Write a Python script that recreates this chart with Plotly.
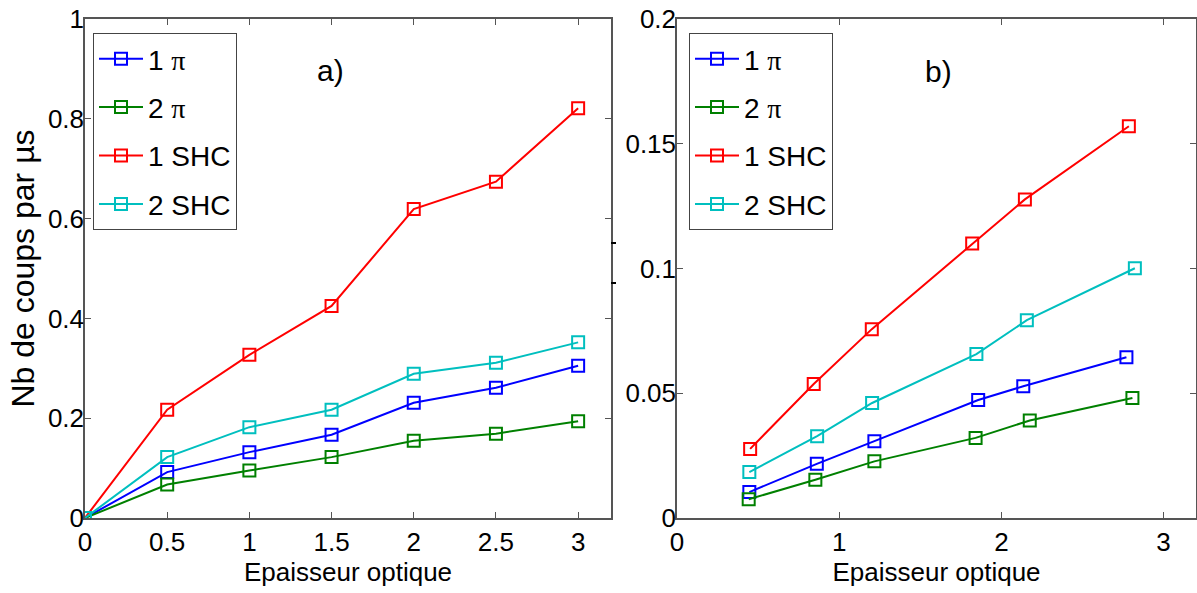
import plotly.graph_objects as go

# ---- data (panel a) ----
xa = [0, 0.5, 1, 1.5, 2, 2.5, 3]
a_1pi = [0, 0.092, 0.132, 0.167, 0.231, 0.261, 0.305]
a_2pi = [0, 0.067, 0.095, 0.122, 0.155, 0.169, 0.194]
a_1shc = [0, 0.217, 0.327, 0.425, 0.619, 0.674, 0.821]
a_2shc = [0, 0.122, 0.182, 0.217, 0.289, 0.311, 0.352]

# ---- data (panel b) ----
xb_1pi = [0.446, 0.862, 1.217, 1.857, 2.135, 2.771]
b_1pi = [0.0104, 0.0217, 0.0308, 0.0473, 0.0528, 0.0644]
xb_2pi = [0.442, 0.853, 1.217, 1.841, 2.175, 2.808]
b_2pi = [0.0075, 0.0153, 0.0227, 0.0321, 0.0391, 0.0481]
xb_1shc = [0.451, 0.843, 1.201, 1.82, 2.145, 2.786]
b_1shc = [0.0277, 0.0537, 0.0757, 0.110, 0.1277, 0.157]
xb_2shc = [0.446, 0.864, 1.203, 1.846, 2.157, 2.823]
b_2shc = [0.0184, 0.0328, 0.0461, 0.0657, 0.0793, 0.1001]

PI = "<span style='font-family:Liberation Serif'>π</span>"
names = ["1 " + PI, "2 " + PI, "1 SHC", "2 SHC"]
colors = ["#0000ff", "#008000", "#ff0000", "#00bfbf"]

FONT = "Liberation Sans, Arial, sans-serif"
W, H = 1197, 593


def px(v):
    return v / W


def py(v):
    return 1 - v / H


fig = go.Figure()


def add(x, y, i, xaxis, yaxis, legend, grp):
    fig.add_trace(go.Scatter(
        x=x, y=y, mode="lines+markers", name=names[i],
        line=dict(color=colors[i], width=2),
        marker=dict(symbol="square-open", size=12, color=colors[i],
                    line=dict(width=2, color=colors[i])),
        xaxis=xaxis, yaxis=yaxis, legend=legend, legendgroup=grp,
    ))


for i, y in enumerate([a_1pi, a_2pi, a_1shc, a_2shc]):
    add(xa, y, i, "x", "y", "legend", "a%d" % i)

for i, (x, y) in enumerate([(xb_1pi, b_1pi), (xb_2pi, b_2pi),
                            (xb_1shc, b_1shc), (xb_2shc, b_2shc)]):
    add(x, y, i, "x2", "y2", "legend2", "b%d" % i)

axcommon = dict(showline=True, mirror="ticks", linecolor="#555555", linewidth=1.5,
                ticks="inside", ticklen=6, tickcolor="#555555", tickwidth=1,
                showgrid=False, zeroline=False, automargin=False,
                ticklabeloverflow="allow",
                tickfont=dict(family=FONT, size=26, color="black"))

ydom = [py(518), py(19)]

legcommon = dict(xanchor="left", yanchor="top",
                 bordercolor="#444444", borderwidth=1, bgcolor="white",
                 font=dict(family=FONT, size=28, color="black"),
                 traceorder="grouped", tracegroupgap=9, itemwidth=44)

fig.update_layout(
    width=W, height=H,
    margin=dict(l=0, r=0, t=0, b=0, autoexpand=False),
    plot_bgcolor="white", paper_bgcolor="white",
    font=dict(family=FONT, color="black"),
    xaxis=dict(domain=[px(85), px(611)], range=[0, 3.2],
               tickvals=[0, 0.5, 1, 1.5, 2, 2.5, 3],
               ticktext=["0", "0.5", "1", "1.5", "2", "2.5", "3"],
               title=dict(text="Epaisseur optique", font=dict(size=26), standoff=6),
               anchor="y", **axcommon),
    yaxis=dict(domain=ydom, range=[0, 1],
               tickvals=[0, 0.2, 0.4, 0.6, 0.8, 1],
               ticktext=["0", "0.2", "0.4", "0.6", "0.8", "1"],
               title=dict(text="Nb de coups par µs", font=dict(size=32), standoff=4),
               ticklabelstandoff=-6,
               anchor="x", **axcommon),
    xaxis2=dict(domain=[px(677), px(1196)], range=[0, 3.2],
                tickvals=[0, 1, 2, 3], ticktext=["0", "1", "2", "3"],
                title=dict(text="Epaisseur optique", font=dict(size=26), standoff=6),
                anchor="y2", **axcommon),
    yaxis2=dict(domain=ydom, range=[0, 0.2],
                tickvals=[0, 0.05, 0.1, 0.15, 0.2],
                ticktext=["0", "0.05", "0.1", "0.15", "0.2"],
                ticklabelstandoff=-6,
                anchor="x2", **axcommon),
    legend=dict(x=px(93), y=py(33), **legcommon),
    legend2=dict(x=px(689), y=py(33), **legcommon),
    showlegend=True,
    annotations=[
        dict(text="a)", x=px(330), y=py(70), xref="paper", yref="paper",
             xanchor="center", yanchor="middle",
             showarrow=False, font=dict(family=FONT, size=30, color="black")),
        dict(text="b)", x=px(938), y=py(72), xref="paper", yref="paper",
             xanchor="center", yanchor="middle",
             showarrow=False, font=dict(family=FONT, size=30, color="black")),
    ],
    shapes=[
        dict(type="line", xref="paper", yref="paper",
             x0=px(611), x1=px(616), y0=py(243), y1=py(243),
             line=dict(color="black", width=2)),
        dict(type="line", xref="paper", yref="paper",
             x0=px(611), x1=px(616), y0=py(283), y1=py(283),
             line=dict(color="black", width=2)),
    ],
)

fig.write_html("out.html",
               config={"displayModeBar": False},
               post_script="document.body.style.margin='0px';")
